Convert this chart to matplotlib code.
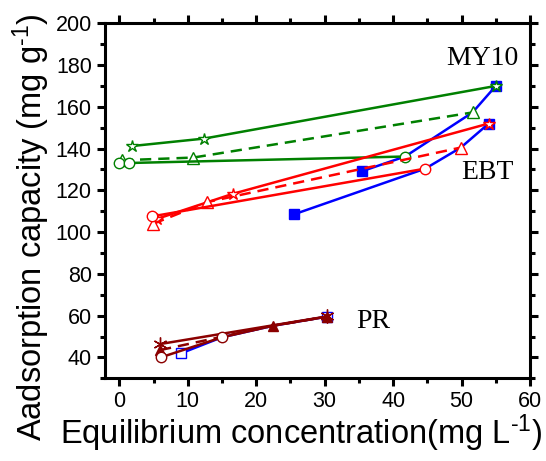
import matplotlib
matplotlib.use("Agg")
import matplotlib.pyplot as plt
from matplotlib.ticker import MultipleLocator

plt.rcParams['font.family'] = ['Liberation Sans', 'DejaVu Sans']
plt.rcParams['mathtext.default'] = 'regular'

# MY10 (green)
my_star_x = [1.8, 12.4, 55.0]
my_star_y = [141.2, 144.8, 170.0]
my_tri_x = [0.35, 10.8, 51.6]
my_tri_y = [134.4, 135.7, 157.3]
my_circ_x = [0.0, 1.46, 41.75]
my_circ_y = [133.3, 133.1, 136.2]
my_blue_x = [35.4, 41.75, 51.6, 55.0]
my_blue_y = [129.1, 136.2, 157.3, 170.0]

# EBT (red)
ebt_star_x = [5.55, 16.64, 53.97]
ebt_star_y = [106.4, 118.4, 152.0]
ebt_tri_x = [4.96, 12.85, 49.9]
ebt_tri_y = [104.0, 114.4, 140.5]
ebt_circ_x = [4.73, 44.7]
ebt_circ_y = [107.5, 130.4]
ebt_blue_x = [25.5, 44.7, 49.9, 53.97]
ebt_blue_y = [108.5, 130.4, 140.5, 152.0]

# PR (dark red)
pr_star_x = [5.94, 22.5, 30.3]
pr_star_y = [46.4, 55.4, 59.6]
pr_tri_x = [5.94, 22.5, 30.3]
pr_tri_y = [43.5, 55.2, 59.5]
pr_circ_x = [6.04, 14.95, 22.5, 30.3]
pr_circ_y = [40.0, 49.6, 55.2, 59.5]
pr_blue_x = [8.96, 14.95, 22.5, 30.3]
pr_blue_y = [41.9, 49.6, 55.2, 59.5]

green, red, blue, dred = '#008000', '#ff0000', '#0000ff', '#8b0000'

fig = plt.figure(figsize=(5.46, 4.61), dpi=100)
ax = fig.add_axes([0.1923, 0.1794, 0.7784, 0.7701])

lw = 1.8
dash = (0, (4.5, 2.8))

# blue series underneath
ax.plot(my_blue_x, my_blue_y, '-', color=blue, lw=lw, marker='s', ms=7,
        markevery=[0, 3], zorder=2)
ax.plot(ebt_blue_x, ebt_blue_y, '-', color=blue, lw=lw, marker='s', ms=7,
        markevery=[0, 3], zorder=2)
ax.plot(pr_blue_x, pr_blue_y, '-', color=blue, lw=lw, marker='s', ms=6.5,
        mfc='white', markevery=[0, 3], zorder=2)

# green
ax.plot(my_star_x, my_star_y, '-', color=green, lw=lw, marker='*', ms=9,
        mfc='white', zorder=3)
ax.plot(my_tri_x, my_tri_y, linestyle=dash, color=green, lw=lw, marker='^', ms=8,
        mfc='white', zorder=3)
ax.plot(my_circ_x, my_circ_y, '-', color=green, lw=lw, marker='o', ms=7.5,
        mfc='white', zorder=3)

# red
ax.plot(ebt_star_x, ebt_star_y, '-', color=red, lw=lw, marker='*', ms=9,
        mfc='white', zorder=3)
ax.plot(ebt_tri_x, ebt_tri_y, linestyle=dash, color=red, lw=lw, marker='^', ms=8,
        mfc='white', zorder=3)
ax.plot(ebt_circ_x, ebt_circ_y, '-', color=red, lw=lw, marker='o', ms=7.5,
        mfc='white', zorder=3)

# dark red
ax.plot(pr_star_x, pr_star_y, '-', color=dred, lw=lw, marker=(6, 2, 0), ms=10,
        markevery=[0, 2], zorder=3)
ax.plot(pr_tri_x, pr_tri_y, linestyle=dash, color=dred, lw=lw, marker='^', ms=7,
        zorder=3)
ax.plot(pr_circ_x, pr_circ_y, '-', color=dred, lw=lw, marker='o', ms=7.5,
        mfc='white', markevery=[0, 1], zorder=3)

ax.text(47.8, 180, 'MY10', family='Liberation Serif', fontsize=20)
ax.text(50.0, 125.6, 'EBT', family='Liberation Serif', fontsize=20)
ax.text(34.6, 54.0, 'PR', family='Liberation Serif', fontsize=20)

ax.set_xlim(-2.1, 60)
ax.set_ylim(30, 200)
ax.xaxis.set_major_locator(MultipleLocator(10))
ax.xaxis.set_minor_locator(MultipleLocator(5))
ax.yaxis.set_minor_locator(MultipleLocator(10))
ax.set_yticks([40, 60, 80, 100, 120, 140, 160, 180, 200])

for s in ax.spines.values():
    s.set_linewidth(2.2)
ax.tick_params(which='both', direction='out', top=True, right=True, width=2.2,
               labelsize=15.5, pad=4)
ax.tick_params(which='major', length=5.5)
ax.tick_params(which='minor', length=3.5)

ax.set_xlabel('Equilibrium concentration(mg L$^{\u2010 1}$)', fontsize=23.5)
ax.set_ylabel('Aadsorption capacity (mg g$^{\u2010 1}$)', fontsize=23.5)
ax.xaxis.set_label_coords(0.461, -0.095)
ax.yaxis.set_label_coords(-0.125, 0.426)

fig.savefig('out.png', dpi=100)
